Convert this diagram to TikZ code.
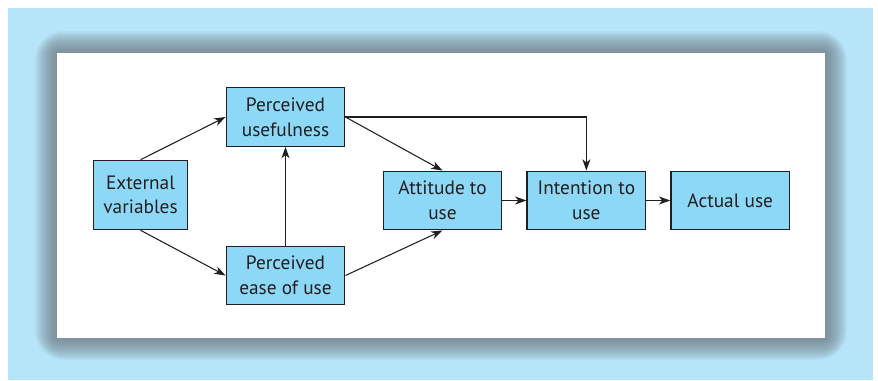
\documentclass[tikz,border=0pt]{standalone}
\usepackage{fontspec}
\setmainfont{PT Sans}
\usetikzlibrary{arrows.meta,positioning}
\definecolor{pagebg}{RGB}{182,228,248}
\definecolor{boxfill}{RGB}{141,216,246}
\definecolor{inkgray}{RGB}{35,31,32}
\definecolor{shadowgray}{RGB}{110,118,125}
\tikzset{
    %Define standard arrow tip
    >={Stealth[length=8.5pt,width=6pt,inset=2.5pt]},
    %Define style for boxes
    punktrect/.style={
    rectangle,
    fill=boxfill,
    draw=inkgray, line width=0.9pt,
    text=inkgray,
    font=\fontsize{14.5}{18.5}\selectfont,
    minimum width=89pt,
    minimum height=44pt,
    inner sep=0pt,
    align=center},
    % Define arrow style
    pil/.style={
           ->,
           draw=inkgray,
           line width=0.8pt}
}
\begin{document}
\begin{tikzpicture}[x=0.75pt,y=-0.75pt]
\useasboundingbox (0,0) rectangle (878,380);
 %background
\fill[white] (0,0) rectangle (878,380);
\fill[pagebg] (8,8) rectangle (873,380);
\foreach \d in {1,...,22}
    \fill[shadowgray,opacity=0.05,rounded corners=\d pt] (57-\d,53-\d) rectangle (825+\d,338+\d);
\fill[white] (57,53) rectangle (825,338);

 %nodes
\node[punktrect, minimum width=71pt, minimum height=52pt] (ext) at (140.5,195) {External\\variables};
\node[punktrect] (pu) at (285.5,117) {Perceived\\usefulness};
\node[punktrect] (ease) at (285.5,275.5) {Perceived\\ease of use};
\node[punktrect] (att) at (442.5,200.5) {Attitude to\\use};
\node[punktrect, right=18pt of att] (int) {Intention to\\use};
\node[punktrect, right=18pt of int] (act) {Actual use};

 %arrows
\draw[pil] (ext.north) -- (pu.west);
\draw[pil] (ext.south) -- (ease.west);
\draw[pil] (ease) -- (pu);
\draw[pil] (pu.east) -- (att.north);
\draw[pil] (pu.east) -| (int.north);
\draw[pil] (ease.east) -- (att.south);
\draw[pil] (att) -- (int);
\draw[pil] (int) -- (act);

\end{tikzpicture}
\end{document}
